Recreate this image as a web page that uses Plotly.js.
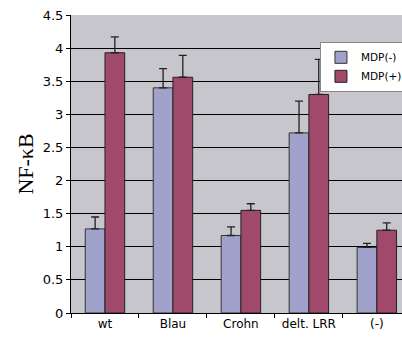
<!DOCTYPE html>
<html><head><meta charset="utf-8">
<script src="https://cdn.plot.ly/plotly-3.0.1.min.js"></script>
<style>body{margin:0;padding:0;background:#fff}#chart{width:402px;height:338px}</style>
</head><body><div id="chart"></div>
<script>
const categories = ["wt", "Blau", "Crohn", "delt. LRR", "(-)"];
const mdpMinus = [1.27, 3.40, 1.17, 2.72, 0.99];
const mdpMinusErr = [0.18, 0.29, 0.13, 0.48, 0.06];
const mdpPlus = [3.93, 3.56, 1.55, 3.30, 1.25];
const mdpPlusErr = [0.24, 0.33, 0.10, 0.53, 0.11];
const yTicks = [0, 0.5, 1, 1.5, 2, 2.5, 3, 3.5, 4, 4.5];
const yTickText = ["0", "0.5", "1", "1.5", "2", "2.5", "3", "3.5", "4", "4.5"];

const errStyle = {type: "data", visible: true, symmetric: false, arrayminus: [0,0,0,0,0], color: "#222", thickness: 1.3, width: 4};
const traces = [
  {type: "bar", name: "MDP(-)", x: categories, y: mdpMinus,
   marker: {color: "#A0A2CC", line: {color: "#333", width: 1}},
   error_y: Object.assign({}, errStyle, {array: mdpMinusErr})},
  {type: "bar", name: "MDP(+)", x: categories, y: mdpPlus,
   marker: {color: "#A0496A", line: {color: "#222", width: 1}},
   error_y: Object.assign({}, errStyle, {array: mdpPlusErr})}
];
const layout = {
  width: 402, height: 338,
  margin: {l: 71, r: 0, t: 15, b: 25, autoexpand: false},
  paper_bgcolor: "#ffffff", plot_bgcolor: "#C6C6CC",
  barmode: "group", bargap: 0.42, bargroupgap: 0,
  font: {family: "DejaVu Sans, Verdana, sans-serif", size: 11, color: "#000"},
  showlegend: true,
  legend: {x: 1.018, y: 0.91, xanchor: "right", yanchor: "top", bgcolor: "#ffffff",
    bordercolor: "#888", borderwidth: 1, font: {size: 10.5, family: "DejaVu Sans, sans-serif"},
    itemwidth: 30, tracegroupgap: 0},
  xaxis: {type: "category", range: [-0.5, 4.37], showline: true, linecolor: "#000", linewidth: 1,
    ticks: "outside", tickson: "boundaries", ticklen: 4, tickcolor: "#000",
    showgrid: false, tickfont: {size: 12}, fixedrange: true},
  yaxis: {range: [0, 4.5], tickvals: yTicks, ticktext: yTickText, showline: true, linecolor: "#000",
    linewidth: 1, ticks: "outside", ticklen: 4, tickcolor: "#000", gridcolor: "#000", gridwidth: 1,
    zeroline: false, tickfont: {size: 13},
    title: {text: "NF-κB", font: {family: "Liberation Serif, Times New Roman, serif", size: 22}, standoff: 3}}
};
Plotly.newPlot("chart", traces, layout, {displayModeBar: false, staticPlot: true});
</script></body></html>
